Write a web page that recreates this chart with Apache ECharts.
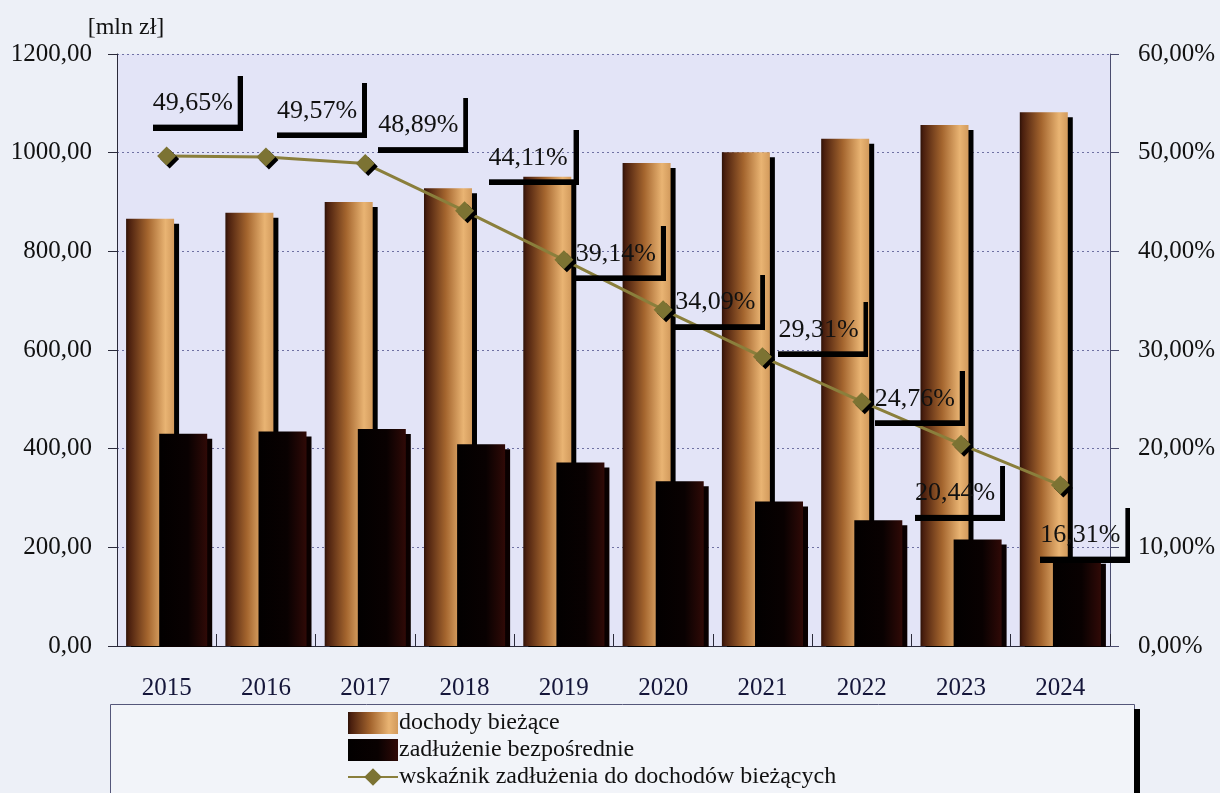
<!DOCTYPE html>
<html>
<head>
<meta charset="utf-8">
<script src="https://cdn.jsdelivr.net/npm/echarts@6/dist/echarts.min.js"></script>
<style>
html,body{margin:0;padding:0;background:#edf0f7;}
#chart{width:1220px;height:793px;}
</style>
</head>
<body>
<div id="chart"></div>
<script>
var categories = ['2015','2016','2017','2018','2019','2020','2021','2022','2023','2024'];
var dochody = [866, 878, 900, 928, 951, 979, 1001, 1028, 1056, 1082];
var zadluzenie = [430, 435, 440, 409, 372, 334, 293, 255, 216, 177];
var wskaznik = [49.65, 49.57, 48.89, 44.11, 39.14, 34.09, 29.31, 24.76, 20.44, 16.31];
var leftTicks = {min: 0, max: 1200, interval: 200};
var rightTicks = {min: 0, max: 60, interval: 10};
var seriesNames = ['dochody bieżące', 'zadłużenie bezpośrednie', 'wskaźnik zadłużenia do dochodów bieżących'];

// label placement (style only)
var labelOffsets = [[-14,-53],[11,-46],[13,-38],[24,-53],[12,-6],[12,-7],[16,-27],[13,-3],[-46,49],[-20,50]];

var FONT = 'Liberation Serif';
var PAGE_BG = '#edf0f7';

function comma(v){ return v.toFixed(2).replace('.', ','); }

// L-shaped frame image for labels
var cv = document.createElement('canvas');
cv.width = 90; cv.height = 55;
var cx = cv.getContext('2d');
cx.fillStyle = '#000';
cx.fillRect(0, 49, 90, 6);
cx.fillRect(85, 0, 5, 55);

var chart = echarts.init(document.getElementById('chart'), null, {renderer: 'canvas'});

var lineData = wskaznik.map(function(v, i){
  return {
    value: v,
    label: {offset: labelOffsets[i]}
  };
});

var option = {
  backgroundColor: PAGE_BG,
  animation: false,
  textStyle: {fontFamily: FONT},
  grid: {
    left: 117, right: 110, top: 54, bottom: 147,
    show: true, backgroundColor: '#e3e4f7', borderWidth: 0,
    containLabel: false, outerBoundsMode: 'none'
  },
  graphic: [{
    type: 'rect',
    left: 110, top: 704,
    shape: {width: 1024, height: 100},
    style: {fill: '#f2f4f9', stroke: '#55577a', lineWidth: 1},
    z: -1
  }, {
    type: 'rect',
    left: 1134, top: 709,
    shape: {width: 6, height: 90},
    style: {fill: '#000'},
    z: -1
  }, {
    // hide bar shadows below the category axis
    type: 'rect',
    left: 112, top: 647,
    shape: {width: 1003, height: 6},
    style: {fill: PAGE_BG},
    z: 50
  }],
  legend: {
    orient: 'vertical',
    left: 347, top: 711,
    itemWidth: 50, itemHeight: 22, itemGap: 3,
    padding: 0,
    textStyle: {fontFamily: FONT, fontSize: 24, color: '#111', lineHeight: 24, padding: [0,0,0,-4]},
    data: [{name: seriesNames[0], icon: 'rect'}, {name: seriesNames[1], icon: 'rect'}, {name: seriesNames[2]}]
  },
  xAxis: {
    type: 'category',
    data: categories,
    boundaryGap: true,
    axisLine: {lineStyle: {color: '#2a2a3a', width: 1}},
    axisTick: {show: true, inside: true, length: 12, lineStyle: {color: '#2a2a3a'}},
    axisLabel: {fontFamily: FONT, fontSize: 25, color: '#15163a', margin: 30}
  },
  yAxis: [{
    type: 'value',
    min: leftTicks.min, max: leftTicks.max, interval: leftTicks.interval,
    name: '[mln zł]',
    nameLocation: 'end',
    nameGap: 14,
    nameTextStyle: {fontFamily: FONT, fontSize: 24, color: '#111', padding: [0,0,0,18]},
    axisLine: {show: true, lineStyle: {color: '#2a2a3a', width: 1}},
    axisTick: {show: true, length: 9, lineStyle: {color: '#2a2a3a'}},
    axisLabel: {fontFamily: FONT, fontSize: 25, color: '#111', margin: 25, formatter: function(v){return comma(v);}},
    splitLine: {show: true, lineStyle: {color: '#6f71a3', type: [2,3], width: 1}}
  }, {
    type: 'value',
    min: rightTicks.min, max: rightTicks.max, interval: rightTicks.interval,
    position: 'right',
    axisLine: {show: true, lineStyle: {color: '#4a4c6e', width: 1}},
    axisTick: {show: true, length: 9, lineStyle: {color: '#4a4c6e'}},
    axisLabel: {fontFamily: FONT, fontSize: 25, color: '#111', margin: 28, formatter: function(v){return comma(v) + '%';}},
    splitLine: {show: false}
  }],
  series: [{
    name: seriesNames[0],
    type: 'bar',
    data: dochody,
    barWidth: 48,
    barGap: '-31%',
    itemStyle: {
      color: new echarts.graphic.LinearGradient(0, 0, 1, 0, [
        {offset: 0, color: '#2e1208'},
        {offset: 0.06, color: '#4a1f0e'},
        {offset: 0.45, color: '#a4652e'},
        {offset: 0.82, color: '#e9b473'},
        {offset: 1, color: '#d29a5c'}
      ]),
      shadowColor: '#000', shadowOffsetX: 5, shadowOffsetY: 5, shadowBlur: 0
    },
    z: 2
  }, {
    name: seriesNames[1],
    type: 'bar',
    data: zadluzenie,
    barWidth: 48,
    itemStyle: {
      color: new echarts.graphic.LinearGradient(0, 0, 1, 0, [
        {offset: 0, color: '#020000'},
        {offset: 0.6, color: '#090101'},
        {offset: 1, color: '#300a07'}
      ]),
      shadowColor: '#0a0000', shadowOffsetX: 5, shadowOffsetY: 5, shadowBlur: 0
    },
    z: 3
  }, {
    name: seriesNames[2],
    type: 'line',
    yAxisIndex: 1,
    data: lineData,
    symbol: 'diamond',
    symbolSize: 19,
    lineStyle: {color: '#8a7f3c', width: 3},
    itemStyle: {color: '#7c7333', shadowColor: '#000', shadowOffsetX: 3, shadowOffsetY: 3, shadowBlur: 0},
    z: 5,
    label: {
      show: true,
      position: 'inside',
      align: 'left',
      verticalAlign: 'middle',
      width: 90, height: 55,
      lineHeight: 52,
      padding: 0,
      fontFamily: FONT, fontSize: 26, color: '#111',
      backgroundColor: {image: cv},
      formatter: function(p){ return comma(p.value) + '%'; }
    }
  }]
};
chart.setOption(option);
</script>
</body>
</html>
